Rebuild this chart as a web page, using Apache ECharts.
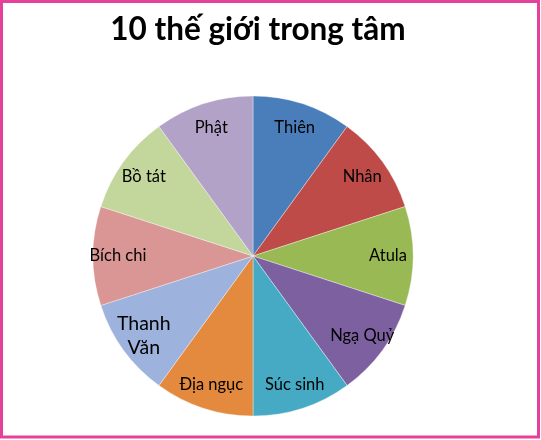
<!DOCTYPE html>
<html>
<head>
<meta charset="utf-8">
<script src="https://cdn.jsdelivr.net/npm/echarts@6/dist/echarts.min.js"></script>
<style>
html,body{margin:0;padding:0;background:#fff;}
#c{width:541px;height:440px;}
</style>
</head>
<body>
<div id="c"></div>
<script>
var titleText = '10 thế giới trong tâm';
var categories = ['Thiên', 'Nhân', 'Atula', 'Ngạ Quỷ', 'Súc sinh', 'Địa ngục', 'Thanh\nVăn', 'Bích chi', 'Bồ tát', 'Phật'];
var values = [1, 1, 1, 1, 1, 1, 1, 1, 1, 1];
var colors = ['#4A7EBB', '#BE4B48', '#98B954', '#7D60A0', '#46AAC5', '#E48A3F', '#9DB2DC', '#D99694', '#C3D69B', '#B3A2C7'];

var chart = echarts.init(document.getElementById('c'), null, {renderer: 'canvas'});
var pieData = categories.map(function (c, i) {
  return {name: c, value: values[i], itemStyle: {color: colors[i]}};
});
var labelData = categories.map(function (c, i) {
  var big = (c.indexOf('\n') >= 0);
  return {name: c, value: values[i], label: {fontSize: big ? 19.5 : 16.5, lineHeight: big ? 24 : 20}};
});
chart.setOption({
  animation: false,
  title: {
    text: titleText, left: 253, top: 9, textAlign: 'center',
    textStyle: {fontFamily: 'Lato', fontWeight: 'bold', fontSize: 31.5, color: '#000'}
  },
  graphic: [{
    type: 'rect', silent: true,
    shape: {x: 1.5, y: 1.5, width: 537, height: 435.5},
    style: {fill: 'none', stroke: '#E5409A', lineWidth: 3}
  }],
  series: [{
    type: 'pie', center: [253, 256], radius: [0, 160], startAngle: 90, clockwise: true,
    label: {show: false}, labelLine: {show: false}, silent: true,
    itemStyle: {borderColor: 'rgba(255,255,255,0.6)', borderWidth: 0.6},
    emphasis: {disabled: true},
    data: pieData
  }, {
    type: 'pie', center: [253, 256], radius: [104, 160], startAngle: 90, clockwise: true,
    silent: true, emphasis: {disabled: true},
    itemStyle: {color: 'transparent', borderWidth: 0},
    label: {show: true, position: 'inside', color: '#000', fontFamily: 'Lato', fontSize: 16.5, align: 'center'},
    labelLine: {show: false},
    data: labelData
  }]
});
</script>
</body>
</html>
